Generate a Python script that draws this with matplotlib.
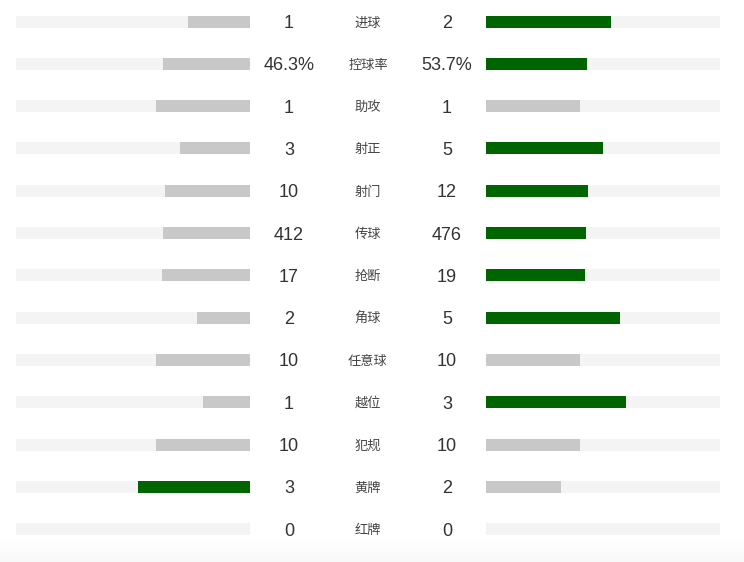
import numpy as np
import matplotlib.pyplot as plt

plt.rcParams['font.family'] = ['Noto Sans CJK SC', 'DejaVu Sans']

labels = ['进球', '控球率', '助攻', '射正', '射门', '传球', '抢断', '角球', '任意球', '越位', '犯规', '黄牌', '红牌']
home = [1, 46.3, 1, 3, 10, 412, 17, 2, 10, 1, 10, 3, 0]
away = [2, 53.7, 1, 5, 12, 476, 19, 5, 10, 3, 10, 2, 0]
home_txt = ['1', '46.3%', '1', '3', '10', '412', '17', '2', '10', '1', '10', '3', '0']
away_txt = ['2', '53.7%', '1', '5', '12', '476', '19', '5', '10', '3', '10', '2', '0']

green = '#006400'
grey = '#c8c8c8'
track = '#f4f4f4'

fig = plt.figure(figsize=(7.44, 5.62), dpi=100)
ax = fig.add_axes([0, 0, 1, 1])
ax.set_xlim(0, 744)
ax.set_ylim(562, 0)
ax.axis('off')

# faint shading at the bottom
grad = np.linspace(1.0, 0.975, 50).reshape(-1, 1)
ax.imshow(np.dstack([grad, grad, grad]), extent=(0, 744, 562, 538), aspect='auto', zorder=0)

tw = 234  # track width
bh = 12
y0, dy = 21.5, 42.3
for i, lab in enumerate(labels):
    y = y0 + i * dy
    h, a = home[i], away[i]
    tot = h + a
    hs = h / tot if tot else 0
    as_ = a / tot if tot else 0
    hc = green if h > a else grey
    ac = green if a > h else grey
    ax.barh(y, tw, left=16, height=bh, color=track, zorder=1)
    ax.barh(y, tw, left=486, height=bh, color=track, zorder=1)
    hw = hs * 0.8 * tw
    aw = as_ * 0.8 * tw
    ax.barh(y, hw, left=250 - hw, height=bh, color=hc, zorder=2)
    ax.barh(y, aw, left=486, height=bh, color=ac, zorder=2)
    ax.text(289, y + 6.5, home_txt[i], ha='center', va='baseline', fontsize=13, color='#333333', family='Liberation Sans')
    ax.text(447, y + 6.5, away_txt[i], ha='center', va='baseline', fontsize=13, color='#333333', family='Liberation Sans')
    ax.text(368, y + 1.5, lab, ha='center', va='center', fontsize=9.5, color='#444444')

fig.savefig('out.png', dpi=100)
